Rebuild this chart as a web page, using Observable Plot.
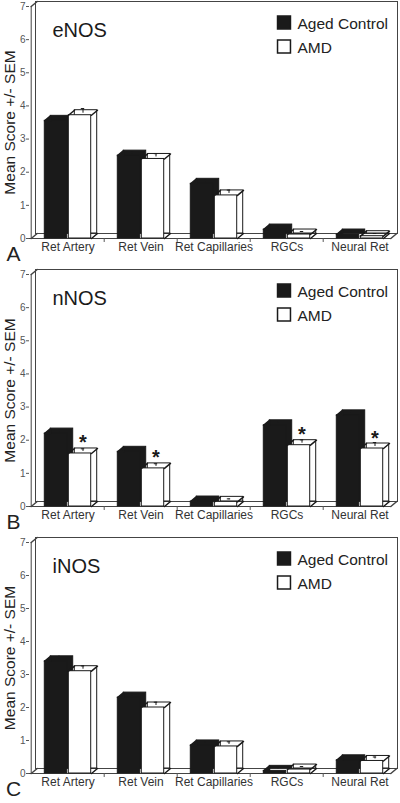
<!DOCTYPE html>
<html>
<head>
<meta charset="utf-8">
<script src="https://cdn.jsdelivr.net/npm/d3@7"></script>
<script src="https://cdn.jsdelivr.net/npm/@observablehq/plot@0.6"></script>
<style>
  html, body { margin: 0; padding: 0; background: white; }
  #chart svg { display: block; }
</style>
</head>
<body>
<div id="chart"></div>
<script>
// ---- data ----
const categories = ["Ret Artery", "Ret Vein", "Ret Capillaries", "RGCs", "Neural Ret"];
const seriesNames = ["Aged Control", "AMD"];
const yTicks = [0, 1, 2, 3, 4, 5, 6, 7];

const eNOS_control = [3.55, 2.5, 1.65, 0.27, 0.12];
const eNOS_amd     = [3.72, 2.4, 1.3, 0.12, 0.07];
const eNOS_controlSem = [0.06, 0.05, 0.05, 0.03, 0.02];
const eNOS_amdSem     = [0.14, 0.1, 0.1, 0.03, 0.02];
const eNOS_sig = [false, false, false, false, false];

const nNOS_control = [2.2, 1.65, 0.15, 2.45, 2.75];
const nNOS_amd     = [1.6, 1.15, 0.14, 1.85, 1.75];
const nNOS_controlSem = [0.04, 0.04, 0.03, 0.04, 0.06];
const nNOS_amdSem     = [0.08, 0.08, 0.03, 0.1, 0.12];
const nNOS_sig = [true, true, false, true, true];

const iNOS_control = [3.4, 2.3, 0.85, 0.08, 0.4];
const iNOS_amd     = [3.1, 2.0, 0.82, 0.12, 0.38];
const iNOS_controlSem = [0.1, 0.05, 0.05, 0.02, 0.04];
const iNOS_amdSem     = [0.1, 0.1, 0.08, 0.03, 0.06];
const iNOS_sig = [false, false, false, false, false];

const panelNames = ["eNOS", "nNOS", "iNOS"];
const panelLetters = ["A", "B", "C"];

// ---- layout ----
const W = 400, ML = 29, MR = 3, MT = 6, MB = 30;
const half = (W - ML - MR) / categories.length / 2;
const DX = 6, DY = -5;
const barW = 23;
const ink = "#1a1a1a";
const font = "'Liberation Sans', Arial, sans-serif";

const lineShape = {draw(ctx) { ctx.moveTo(0, 0); ctx.lineTo(DX, DY); }};
const notchShape = {draw(ctx) { ctx.moveTo(0, 0); ctx.lineTo(DX, DY); ctx.lineTo(DX, 0); ctx.closePath(); }};

function panel(name, letter, control, amd, cSem, aSem, sig, height) {
  const rows = categories.map((c, i) => ({cat: c, control: control[i], amd: amd[i], cs: cSem[i], as: aSem[i], sig: sig[i]}));
  const bLeft = half - barW - 0.5, bRight = half + 0.5;      // black bar insets
  const wLeft = half + 0.5, wRight = half - barW - 0.5;      // white bar insets
  const vec = (data, opts) => Plot.vector(data, {length: 1, rotate: 0, anchor: "start", ...opts});
  return Plot.plot({
    width: W, height,
    marginLeft: ML, marginRight: MR, marginTop: MT, marginBottom: MB,
    style: {fontFamily: font, background: "white", color: ink},
    x: {domain: categories, padding: 0},
    y: {domain: [0, 7]},
    marks: [
      // back wall
      Plot.frame({stroke: "#444", insetLeft: DX, insetTop: DY, insetBottom: -DY}),
      // left wall edge
      Plot.ruleX([categories[0]], {dx: -half, y1: 0, y2: 7, stroke: "#444"}),
      vec([{c: categories[0], v: 7}], {x: "c", y: "v", dx: -half, shape: lineShape, stroke: "#444"}),
      // floor
      Plot.ruleY([0], {insetRight: DX, stroke: "#444"}),
      vec([{c: categories[0], v: 0}], {x: "c", y: "v", dx: -half, shape: lineShape, stroke: "#444"}),
      vec([{c: categories[categories.length - 1], v: 0}], {x: "c", y: "v", dx: half - DX, shape: lineShape, stroke: "#444"}),
      // small ticks between categories
      Plot.ruleX(categories.slice(1), {x: d => d, dx: -half, y1: 0, y2: -0.12, stroke: "#555"}),
      // Aged Control bars (black)
      Plot.barY(rows, {x: "cat", y: "control", insetLeft: bLeft, insetRight: bRight, dx: DX, dy: DY, fill: ink, stroke: ink}),
      Plot.barY(rows, {x: "cat", y: "control", insetLeft: bLeft, insetRight: bRight, fill: ink, stroke: ink}),
      vec(rows, {x: "cat", y: "control", dx: -barW - 0.5, shape: notchShape, fill: ink, stroke: ink}),
      Plot.ruleX(rows, {x: "cat", y1: "control", y2: d => d.control + d.cs, dx: -barW / 2 + 2.5, dy: -2, stroke: ink}),
      // AMD bars (white)
      Plot.barY(rows, {x: "cat", y: "amd", insetLeft: wLeft, insetRight: wRight, dx: DX, dy: DY, fill: "white", stroke: ink}),
      Plot.barY(rows, {x: "cat", y: "amd", insetLeft: wLeft, insetRight: wRight, fill: "white", stroke: ink}),
      vec(rows, {x: "cat", y: "amd", dx: 0.5, shape: lineShape, stroke: ink}),
      vec(rows, {x: "cat", y: "amd", dx: barW + 0.5, shape: lineShape, stroke: ink}),
      vec(rows, {x: "cat", y: () => 0, dx: barW + 0.5, shape: lineShape, stroke: ink}),
      Plot.ruleX(rows, {x: "cat", y1: "amd", y2: d => d.amd + d.as, dx: barW / 2 + 3.5, dy: -2, stroke: ink}),
      Plot.tickY(rows, {x: "cat", y: d => d.amd + d.as, dx: 3.5, dy: -2, insetLeft: half + barW / 2 - 2, insetRight: half - barW / 2 - 2, stroke: ink}),
      // significance stars
      Plot.text(rows.filter(d => d.sig), {x: "cat", y: "amd", text: () => "*", dx: barW / 2 + 3.5, dy: -4, lineAnchor: "bottom", fontSize: 20, fontWeight: "bold", fill: ink}),
      // axes
      Plot.axisY(yTicks, {tickSize: 3, tickPadding: 1, fontSize: 10, color: "#555", label: null}),
      Plot.axisX({tickSize: 0, tickPadding: 4, fontSize: 12, color: "#333", label: null}),
      // axis title
      Plot.text(["Mean Score +/- SEM"], {text: d => d, frameAnchor: "left", dx: -19, rotate: -90, textAnchor: "middle", fontSize: 15.5, fill: "#222"}),
      // panel title and letter
      Plot.text([name], {text: d => d, frameAnchor: "top-left", dx: 23, dy: 30, textAnchor: "start", lineAnchor: "bottom", fontSize: 20, fill: ink}),
      Plot.text([letter], {text: d => d, frameAnchor: "bottom-left", dx: -16, dy: 22, textAnchor: "middle", lineAnchor: "bottom", fontSize: 21, fill: "#222"}),
      // legend
      Plot.dot([seriesNames[0]], {frameAnchor: "top-right", dx: -113.5, dy: 16, symbol: "square", r: 7.3, fill: ink, stroke: ink}),
      Plot.dot([seriesNames[1]], {frameAnchor: "top-right", dx: -113.5, dy: 40, symbol: "square", r: 7.3, fill: "white", stroke: ink}),
      Plot.text([seriesNames[0]], {text: d => d, frameAnchor: "top-right", dx: -100, dy: 22, textAnchor: "start", lineAnchor: "bottom", fontSize: 15.5, fill: "#222"}),
      Plot.text([seriesNames[1]], {text: d => d, frameAnchor: "top-right", dx: -100, dy: 46, textAnchor: "start", lineAnchor: "bottom", fontSize: 15.5, fill: "#222"})
    ]
  });
}

const chart = document.getElementById("chart");
chart.append(panel(panelNames[0], panelLetters[0], eNOS_control, eNOS_amd, eNOS_controlSem, eNOS_amdSem, eNOS_sig, 268));
chart.append(panel(panelNames[1], panelLetters[1], nNOS_control, nNOS_amd, nNOS_controlSem, nNOS_amdSem, nNOS_sig, 268));
chart.append(panel(panelNames[2], panelLetters[2], iNOS_control, iNOS_amd, iNOS_controlSem, iNOS_amdSem, iNOS_sig, 267));
</script>
</body>
</html>
